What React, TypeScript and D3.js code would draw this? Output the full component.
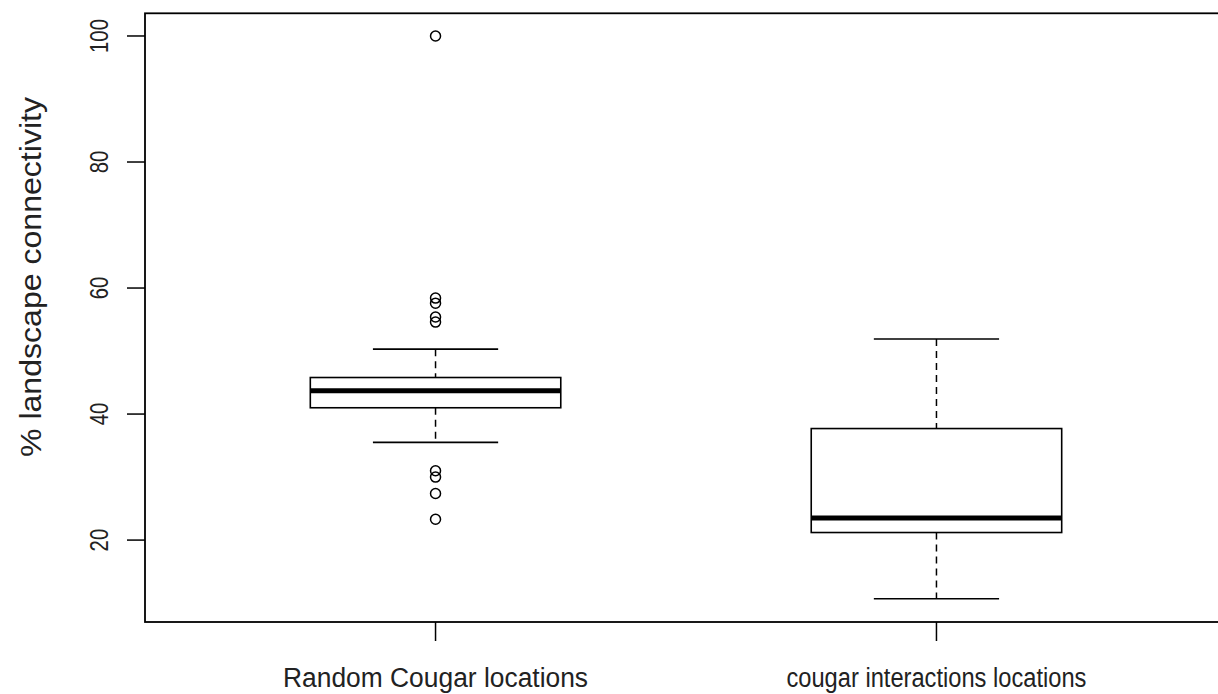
import React from 'react';
import * as d3 from 'd3';

// group labels (x axis)
const groups = ['Random Cougar locations', 'cougar interactions locations'];
// five-number summaries: lower whisker, Q1, median, Q3, upper whisker
const lowerWhisker = [35.5, 10.7];
const q1 = [41.0, 21.2];
const medians = [43.7, 23.5];
const q3 = [45.8, 37.7];
const upperWhisker = [50.3, 51.9];
// outliers per group
const outliers = [
  [100, 58.4, 57.6, 55.4, 54.6, 31.0, 30.0, 27.4, 23.3],
  [],
];
const yTicks = [20, 40, 60, 80, 100];

const width = 1218;
const height = 694;
const font = '"Liberation Sans", Arial, sans-serif';
// the reference text is a narrow face, squeeze it to the measured widths
const groupLabelWidths = [305, 300];

export default function App() {
  // R style: xlim 0.5..2.5 extended by 4%
  const x = d3.scaleLinear().domain([0.42, 2.58]).range([145, 1227]);
  const y = d3.scaleLinear().domain([7.0, 103.6]).range([622, 13.3]);
  const boxHalf = 0.25;
  const capHalf = 0.125;
  const left = x(0.42);
  const right = x(2.58);

  return (
    <svg width={width} height={height} style={{ position: 'absolute', left: 0, top: 0, background: '#fff' }}>
      <rect x={0} y={0} width={width} height={height} fill="#fff" />
      {/* plot frame */}
      <rect x={left} y={y(103.6)} width={right - left} height={y(7.0) - y(103.6)} fill="none" stroke="#000" strokeWidth={1.8} />

      {groups.map((g, i) => {
        const cx = x(i + 1);
        const bx0 = x(i + 1 - boxHalf);
        const bx1 = x(i + 1 + boxHalf);
        return (
          <g key={g}>
            {/* whiskers */}
            <line x1={cx} x2={cx} y1={y(upperWhisker[i])} y2={y(q3[i])} stroke="#000" strokeWidth={1.5} strokeDasharray="7,5" />
            <line x1={cx} x2={cx} y1={y(q1[i])} y2={y(lowerWhisker[i])} stroke="#000" strokeWidth={1.5} strokeDasharray="7,5" />
            <line x1={x(i + 1 - capHalf)} x2={x(i + 1 + capHalf)} y1={y(upperWhisker[i])} y2={y(upperWhisker[i])} stroke="#000" strokeWidth={1.6} />
            <line x1={x(i + 1 - capHalf)} x2={x(i + 1 + capHalf)} y1={y(lowerWhisker[i])} y2={y(lowerWhisker[i])} stroke="#000" strokeWidth={1.6} />
            {/* box */}
            <rect x={bx0} y={y(q3[i])} width={bx1 - bx0} height={y(q1[i]) - y(q3[i])} fill="#fff" stroke="#000" strokeWidth={1.6} />
            <line x1={bx0} x2={bx1} y1={y(medians[i])} y2={y(medians[i])} stroke="#000" strokeWidth={5} />
            {outliers[i].map((v, j) => (
              <circle key={j} cx={cx} cy={y(v)} r={5} fill="none" stroke="#000" strokeWidth={1.5} />
            ))}
            {/* x tick + label */}
            <line x1={cx} x2={cx} y1={622} y2={641} stroke="#000" strokeWidth={1.5} />
            <text x={cx} y={687} textAnchor="middle" fontFamily={font} fontSize={27} textLength={groupLabelWidths[i]} lengthAdjust="spacingAndGlyphs" fill="#222">{g}</text>
          </g>
        );
      })}

      {/* y axis ticks */}
      {yTicks.map(t => (
        <g key={t} transform={`translate(0,${y(t)})`}>
          <line x1={127} x2={left} stroke="#000" strokeWidth={1.5} />
          <text transform="translate(108,0) rotate(-90)" textAnchor="middle" fontFamily={font} fontSize={25} textLength={String(t).length * 11.3} lengthAdjust="spacingAndGlyphs" fill="#222">{t}</text>
        </g>
      ))}
      <text transform={`translate(41,277) rotate(-90)`} textAnchor="middle" fontFamily={font} fontSize={30} textLength={360} lengthAdjust="spacingAndGlyphs" fill="#222">% landscape connectivity</text>
    </svg>
  );
}
